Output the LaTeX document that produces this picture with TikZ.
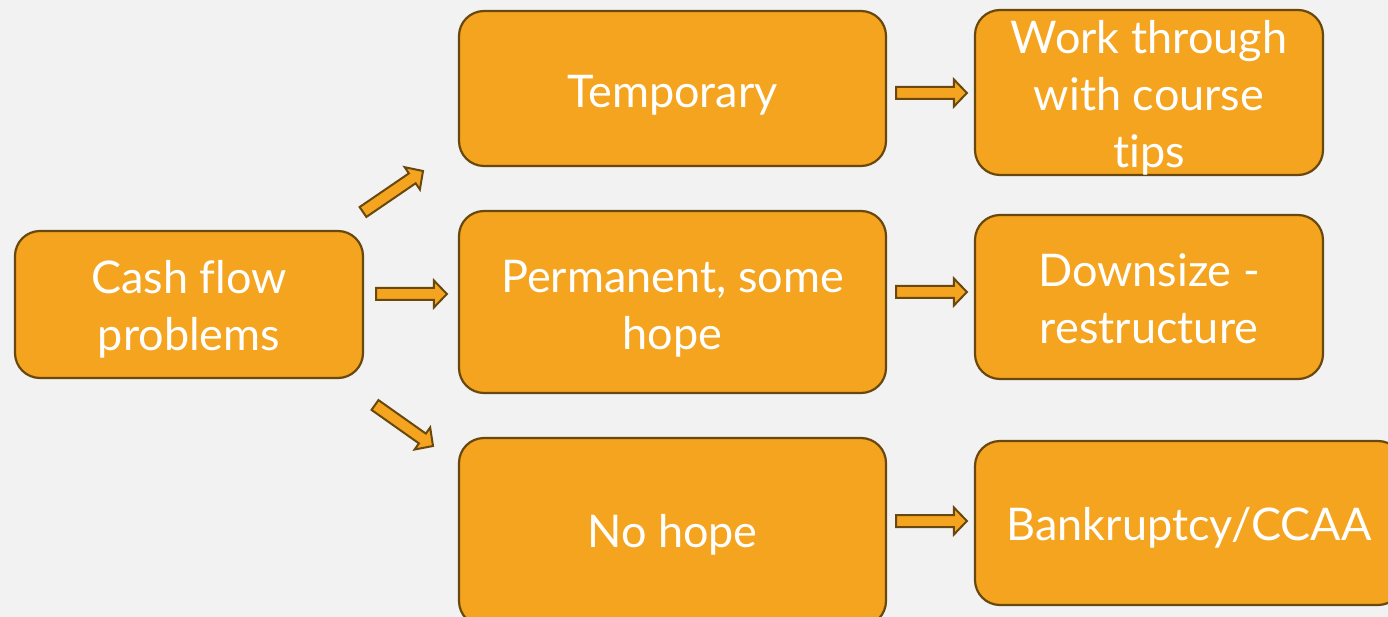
\documentclass[tikz,border=0pt]{standalone}
\usepackage{fontspec}
\setmainfont[Ligatures=NoCommon]{Lato}
\usetikzlibrary{calc}
\definecolor{bgc}{RGB}{242,242,242}
\definecolor{boxfill}{RGB}{245,164,32}
\definecolor{boxline}{RGB}{105,72,14}
\newcommand\tstrut[1]{\rule{0pt}{#1pt}}
\tikzset{
  box/.style={draw=boxline, fill=boxfill, line width=2.2pt, rounded corners=25pt,
    text=white, align=center, inner sep=0pt,
    font=\fontsize{45}{57}\selectfont},
  barrowstyle/.style={draw=boxline, fill=boxfill, line width=2pt, line join=miter}
}
\newcommand\barrow[2]{%
  \coordinate (hh) at ($(#2)!13pt!(#1)$);
  \draw[barrowstyle] ($(#1)!6pt!90:(#2)$) -- ($(hh)!6pt!-90:(#1)$) -- ($(hh)!13.5pt!-90:(#1)$)
    -- (#2) -- ($(hh)!13.5pt!90:(#1)$) -- ($(hh)!6pt!90:(#1)$) -- ($(#1)!6pt!-90:(#2)$) -- cycle;}
\begin{document}
\begin{tikzpicture}[x=1pt,y=1pt]
\useasboundingbox (0,0) rectangle (1388,-617);
\clip (0,0) rectangle (1388,-617);
\fill[bgc] (0,0) rectangle (1388,-617);

\node[box, minimum width=348pt, minimum height=147pt] (cash) at (189,-304.5) {\tstrut{43}Cash flow\\problems};
\node[box, minimum width=427pt, minimum height=155pt] (temp) at (672.5,-88.5) {\tstrut{46}Temporary};
\node[box, minimum width=427pt, minimum height=182pt] (perm) at (672.5,-302) {\tstrut{45}Permanent, some\\hope};
\node[box, minimum width=427pt, minimum height=188pt] (nohope) at (672.5,-532) {\tstrut{38}No hope};
\node[box, minimum width=348pt, minimum height=165pt] (work) at (1149,-92.5) {\tstrut{43}Work through\\with course\\tips};
\node[box, minimum width=348pt, minimum height=164pt] (down) at (1149,-297) {\tstrut{37}Downsize -\\restructure};
\node[box, minimum width=428pt, minimum height=164pt] (bank) at (1189,-523) {\tstrut{42}Bankruptcy/CCAA};

\coordinate (a1s) at (363,-212); \coordinate (a1e) at (423,-171);
\coordinate (a2s) at ($(cash.east |- 0,-294)+(12,0)$); \coordinate (a2e) at ($(perm.west |- 0,-294)+(-11,0)$);
\coordinate (a3s) at (375,-405); \coordinate (a3e) at (433,-446);
\coordinate (b1s) at ($(temp.east |- 0,-93)+(9,0)$); \coordinate (b1e) at ($(work.west |- 0,-93)+(-7,0)$);
\coordinate (b2s) at ($(perm.east |- 0,-292)+(9,0)$); \coordinate (b2e) at ($(down.west |- 0,-292)+(-7,0)$);
\coordinate (b3s) at ($(nohope.east |- 0,-521)+(9,0)$); \coordinate (b3e) at ($(bank.west |- 0,-521)+(-7,0)$);

\barrow{a1s}{a1e}
\barrow{a2s}{a2e}
\barrow{a3s}{a3e}
\barrow{b1s}{b1e}
\barrow{b2s}{b2e}
\barrow{b3s}{b3e}
\end{tikzpicture}
\end{document}
